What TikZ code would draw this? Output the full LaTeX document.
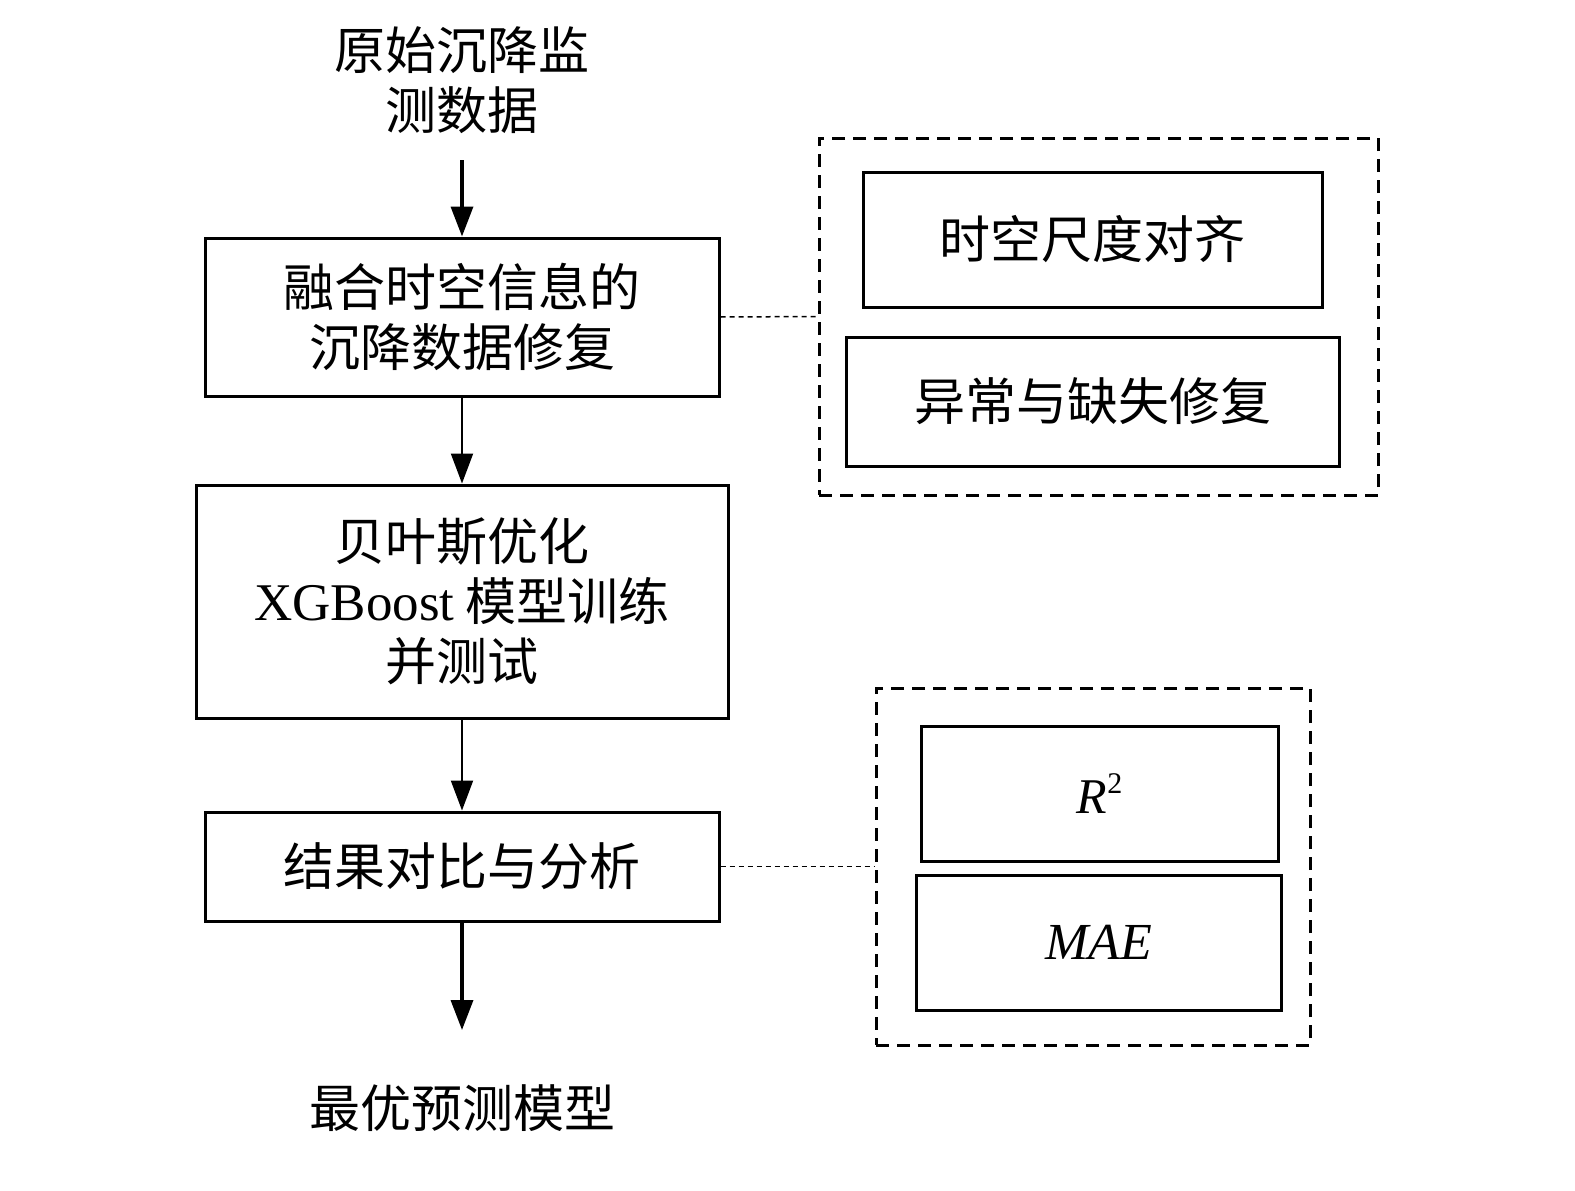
\documentclass[tikz,border=0pt]{standalone}
\usepackage{fontspec}
\setmainfont{Liberation Serif}
\newfontfamily\cjk{Noto Sans CJK SC}
\usetikzlibrary{arrows.meta}
\begin{document}
\begin{tikzpicture}[x=1pt,y=-1pt,
  every node/.style={font=\fontsize{51}{60}\selectfont\cjk, align=center},
  box/.style={draw, line width=3pt, inner sep=0pt},
  grp/.style={draw, line width=3pt, inner sep=0pt, dash pattern=on 13pt off 8pt},
  dotline/.style={line width=1.5pt, dash pattern=on 5pt off 4pt},
  arr/.style={line width=2pt, -{Triangle[width=22pt,length=30pt]}},
  arrthick/.style={line width=3.5pt, -{Triangle[width=22pt,length=30pt]}}]
\useasboundingbox (0,0) rectangle (1575,1191);
% left column
\node (top) at (462,80) {原始沉降监\\测数据};
\coordinate (a0) at (462,160);
\node[box, minimum width=514pt, minimum height=158pt] (b1) at (462,317) {融合时空信息的\\沉降数据修复};
\node[box, minimum width=532pt, minimum height=233pt] (b2) at (462,601.5) {贝叶斯优化\\{\rmfamily\fontsize{53}{60}\selectfont XGBoost} 模型训练\\并测试};
\node[box, minimum width=514pt, minimum height=109pt] (b3) at (462,866.5) {结果对比与分析};
\coordinate (a5) at (462,1030);
\node (bot) at (462,1108) {最优预测模型};
\draw[arrthick] (a0) -- (b1.north);
\draw[arr] (b1.south) -- (b2.north);
\draw[arr] (b2.south) -- (b3.north);
\draw[arrthick] (b3.south) -- (a5);
% group 1
\node[grp, minimum width=559pt, minimum height=357pt] (g1) at (1098.5,316.5) {};
\node[box, minimum width=459pt, minimum height=135pt] (s1) at (1092.5,239.5) {时空尺度对齐};
\node[box, minimum width=493pt, minimum height=129pt] (s2) at (1092.5,401.5) {异常与缺失修复};
\draw[dotline] (b1.east) -- (g1.west);
% group 2
\node[grp, minimum width=434pt, minimum height=357pt] (g2) at (1093,866.5) {};
\node[box, minimum width=357pt, minimum height=135pt, font=\fontsize{50}{60}\selectfont\rmfamily] (r2) at (1099.5,793.5) {\textit{R}\raisebox{0.85ex}{\fontsize{30}{30}\selectfont 2}};
\node[box, minimum width=365pt, minimum height=135pt, font=\fontsize{52}{60}\selectfont\rmfamily] (mae) at (1098.5,942.5) {\textit{MAE}};
\draw[dotline] (b3.east) -- (g2.west);
\end{tikzpicture}
\end{document}
